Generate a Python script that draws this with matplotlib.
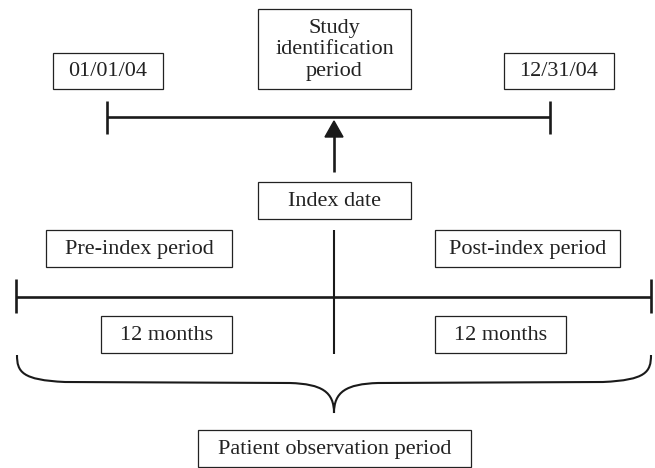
import matplotlib.pyplot as plt
from matplotlib.patches import Rectangle, PathPatch
from matplotlib.path import Path

# ---- diagram text ----
top_labels = ['01/01/04', 'Study\nidentification\nperiod', '12/31/04']
mid_labels = ['Index date', 'Pre-index period', 'Post-index period']
span_labels = ['12 months', '12 months']
bottom_label = 'Patient observation period'

# ---- layout (pixels, y downwards): x0, y0, x1, y1 ----
top_boxes = [(53, 53, 163, 89), (258, 9, 411, 89), (504, 53, 614, 89)]
mid_boxes = [(258, 182, 411, 219), (46, 230, 232, 267), (435, 230, 620, 267)]
span_boxes = [(101, 316, 232, 353), (435, 316, 566, 353)]
bottom_box = (198, 430, 471, 467)

FONT = 'Liberation Serif'
FS = 16

fig = plt.figure(figsize=(6.55, 4.68), dpi=100)
ax = fig.add_axes([0, 0, 1, 1])
ax.set_xlim(0, 655)
ax.set_ylim(468, 0)
ax.axis('off')


def box(b, txt, lh=1.0):
    x0, y0, x1, y1 = b
    ax.add_patch(Rectangle((x0, y0), x1 - x0, y1 - y0, fill=False,
                           edgecolor='#222222', linewidth=0.9))
    ax.text((x0 + x1) / 2, (y0 + y1) / 2 + 1, txt, ha='center', va='center',
            fontsize=FS, family=FONT, color='#222222', linespacing=lh)


for b, t in zip(top_boxes, top_labels):
    box(b, t, lh=1.2)
for b, t in zip(mid_boxes, mid_labels):
    box(b, t)
for b, t in zip(span_boxes, span_labels):
    box(b, t)
box(bottom_box, bottom_label)

lc = '#1a1a1a'
# top timeline (study identification period)
ax.plot([107, 550], [117, 117], color=lc, lw=1.9, solid_capstyle='butt')
for x in (107, 550):
    ax.plot([x, x], [101, 134], color=lc, lw=1.9, solid_capstyle='butt')

# arrow from index date up to the timeline
ax.plot([334, 334], [172, 135], color=lc, lw=1.9, solid_capstyle='butt')
ax.add_patch(plt.Polygon([[325, 137], [343, 137], [334, 121]], closed=True,
                         color=lc))

# bottom timeline (observation period)
ax.plot([16, 651], [297, 297], color=lc, lw=1.9, solid_capstyle='butt')
for x in (16, 651):
    ax.plot([x, x], [279, 313], color=lc, lw=1.9, solid_capstyle='butt')
ax.plot([334, 334], [230, 354], color=lc, lw=1.5, solid_capstyle='butt')

# curly brace
verts = [(17, 355),
         (17, 372), (22, 380), (65, 382),
         (290, 383),
         (322, 384), (334, 392), (334, 413),
         (334, 392), (346, 384), (378, 383),
         (603, 382),
         (646, 380), (651, 372), (651, 355)]
codes = [Path.MOVETO,
         Path.CURVE4, Path.CURVE4, Path.CURVE4,
         Path.LINETO,
         Path.CURVE4, Path.CURVE4, Path.CURVE4,
         Path.CURVE4, Path.CURVE4, Path.CURVE4,
         Path.LINETO,
         Path.CURVE4, Path.CURVE4, Path.CURVE4]
ax.add_patch(PathPatch(Path(verts, codes), fill=False, edgecolor=lc, lw=1.5))

fig.savefig('out.png', dpi=100)
